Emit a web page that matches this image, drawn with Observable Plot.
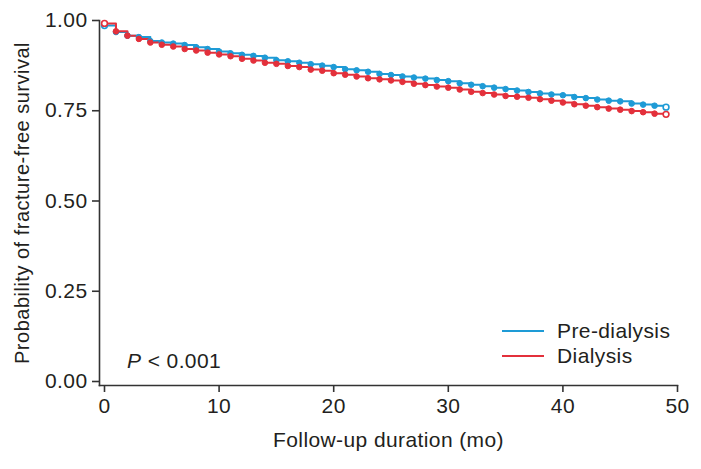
<!DOCTYPE html>
<html><head><meta charset="utf-8">
<script src="https://cdn.jsdelivr.net/npm/d3@7"></script>
<script src="https://cdn.jsdelivr.net/npm/@observablehq/plot@0.6"></script>
<style>
body{margin:0;background:#fff}
#chart svg text{letter-spacing:0.4px}
#chart svg text.ylab{letter-spacing:0.5px}
</style>
</head><body><div id="chart"></div>
<script>
const months = [0,1,2,3,4,5,6,7,8,9,10,11,12,13,14,15,16,17,18,19,20,21,22,23,24,25,26,27,28,29,30,31,32,33,34,35,36,37,38,39,40,41,42,43,44,45,46,47,48,49];
const preDialysis = [0.986,0.968,0.958,0.954,0.943,0.939,0.936,0.932,0.926,0.921,0.914,0.909,0.905,0.902,0.897,0.890,0.887,0.883,0.879,0.875,0.871,0.865,0.862,0.858,0.852,0.849,0.845,0.842,0.839,0.835,0.832,0.826,0.822,0.818,0.814,0.810,0.806,0.802,0.798,0.795,0.793,0.788,0.785,0.781,0.778,0.776,0.770,0.767,0.764,0.760];
const dialysis = [0.992,0.970,0.958,0.949,0.939,0.933,0.928,0.921,0.917,0.911,0.906,0.901,0.894,0.889,0.883,0.880,0.874,0.871,0.864,0.861,0.854,0.850,0.845,0.840,0.837,0.834,0.830,0.825,0.821,0.817,0.814,0.809,0.8025,0.799,0.795,0.791,0.789,0.786,0.782,0.778,0.773,0.768,0.764,0.760,0.756,0.753,0.749,0.746,0.742,0.740];
const seriesNames = ["Pre-dialysis","Dialysis"];
const seriesColors = ["#1e9bd6","#e3303b"];
const xTicks = [0,10,20,30,40,50];
const yTicks = [0,0.25,0.5,0.75,1];
const xLabel = "Follow-up duration (mo)";
const yLabel = "Probability of fracture-free survival";
const pText = ["P"," < 0.001"];

const seriesValues = [preDialysis, dialysis];
const rows = [];
seriesNames.forEach((name, k) => {
  months.forEach((m, i) => rows.push({series: name, month: m, s: seriesValues[k][i], end: i === 0 || i === months.length - 1}));
});

const font = "'Liberation Sans', Arial, Helvetica, sans-serif";
const axisColor = "#333";
const textColor = "#231f20";

const plot = Plot.plot({
  width: 701, height: 469,
  marginLeft: 99, marginRight: 24, marginTop: 20, marginBottom: 84,
  insetLeft: 5, insetBottom: 4, insetTop: 0, insetRight: 0,
  style: {fontFamily: font, fontSize: "21px", color: textColor, background: "#fff", overflow: "visible"},
  x: {domain: [0, 50]},
  y: {domain: [0, 1]},
  color: {domain: seriesNames, range: seriesColors},
  marks: [
    Plot.frame({anchor: "left", stroke: axisColor, strokeWidth: 1.6}),
    Plot.frame({anchor: "bottom", stroke: axisColor, strokeWidth: 1.6}),
    Plot.axisX({ticks: xTicks, tickSize: 7, tickPadding: 6, label: null, stroke: axisColor, strokeWidth: 1.6, fill: textColor}),
    Plot.axisY({ticks: yTicks, tickFormat: d3.format(".2f"), tickSize: 7, tickPadding: 5, label: null, stroke: axisColor, strokeWidth: 1.6, fill: textColor}),
    Plot.line(rows, {x: "month", y: "s", z: "series", stroke: "series", curve: "step-after", strokeWidth: 2}),
    Plot.dot(rows.filter(d => !d.end), {x: "month", y: "s", fill: "series", stroke: "series", r: 2.8, strokeWidth: 1}),
    Plot.dot(rows.filter(d => d.end), {x: "month", y: "s", fill: "white", stroke: "series", r: 2.9, strokeWidth: 1.6}),
    Plot.text([xLabel], {text: d => d, frameAnchor: "bottom", dy: 55, lineAnchor: "middle", textAnchor: "middle", fill: textColor, fontSize: 21}),
    Plot.text([yLabel], {text: d => d, frameAnchor: "left", dx: -77, rotate: -90, lineAnchor: "middle", textAnchor: "middle", fill: textColor, fontSize: 20, className: "ylab"})
  ]
});
document.getElementById("chart").appendChild(plot);
d3.select(plot).selectAll("g.ylab text").classed("ylab", true);

const svg = d3.select(plot);
// legend
const leg = svg.append("g").attr("font-family", font).attr("font-size", 21).attr("fill", textColor).attr("text-anchor", "start");
seriesNames.forEach((name, k) => {
  const yy = 331 + k * 25;
  leg.append("line").attr("x1", 502).attr("x2", 544).attr("y1", yy).attr("y2", yy)
    .attr("stroke", seriesColors[k]).attr("stroke-width", 2);
  leg.append("text").attr("x", 557).attr("y", yy).attr("dy", "0.35em").text(name);
});
// p-value
const pt = svg.append("text").attr("x", 127).attr("y", 361).attr("dy", "0.35em").attr("text-anchor", "start")
  .attr("font-family", font).attr("font-size", 21).attr("fill", textColor);
pt.append("tspan").attr("font-style", "italic").text(pText[0]);
pt.append("tspan").text(pText[1]);
</script>
</body></html>
